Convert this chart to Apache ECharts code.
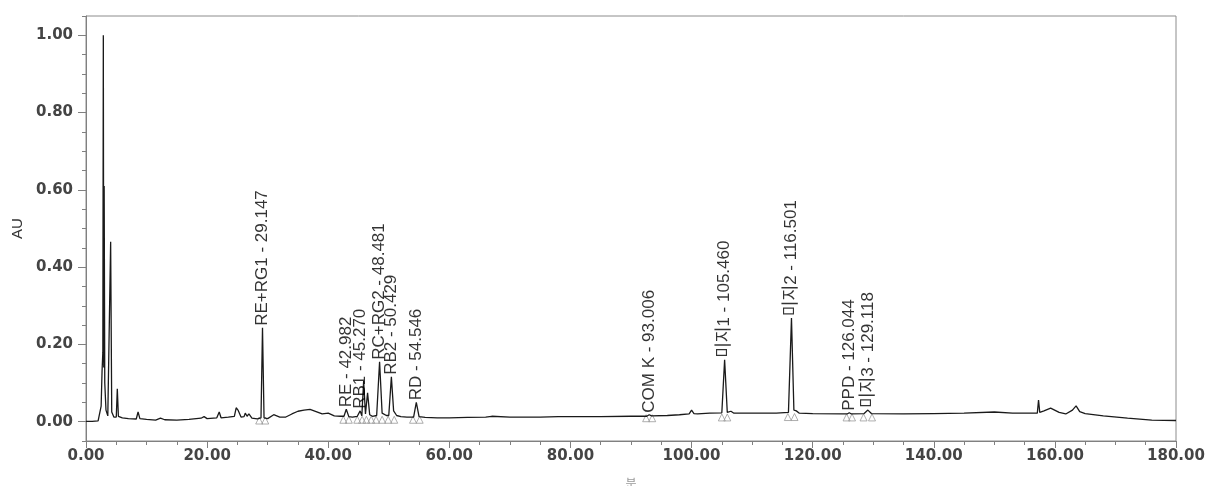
<!DOCTYPE html>
<html>
<head>
<meta charset="utf-8">
<script src="https://cdn.jsdelivr.net/npm/echarts@6/dist/echarts.min.js"></script>
<style>
html,body{margin:0;padding:0;background:#fff;}
#chart{width:1215px;height:486px;}
</style>
</head>
<body>
<div id="chart"></div>
<script>
// Chromatogram trace (time in minutes, absorbance in AU)
const traceTime = [0, 1.0, 2.0, 2.3, 2.5, 2.65, 2.78, 2.86, 2.93, 3.0, 3.1, 3.3, 3.6, 3.9, 4.07, 4.25, 4.6, 5.0, 5.17, 5.35,
  6.0, 7.0, 8.3, 8.6, 8.9, 10.0, 11.5, 12.3, 13.0, 15.0, 17.0, 19.0, 19.5, 20.0, 21.6, 22.0, 22.3, 23.5, 24.5, 24.8,
  25.1, 25.6, 26.1, 26.3, 26.6, 26.9, 27.4, 28.3, 28.9, 29.147, 29.4, 30.0, 31.0, 32.0, 33.0, 34.0, 35.0, 36.0, 37.0, 38.0,
  39.0, 40.0, 41.0, 42.0, 42.6, 42.982, 43.4, 44.0, 44.8, 45.27, 45.55, 45.85, 46.15, 46.5, 46.85, 47.3, 48.0, 48.481, 48.9, 49.6,
  50.0, 50.429, 50.8, 51.3, 52.0, 53.0, 54.1, 54.546, 55.0, 56.0, 58.0, 60.0, 63.0, 66.0, 67.0, 70.0, 75.0, 78.0, 80.0, 85.0,
  90.0, 92.6, 93.006, 93.4, 96.0, 98.0, 99.6, 100.0, 100.4, 101.0, 103.0, 105.0, 105.46, 105.9, 106.5, 107.0, 110.0, 114.0, 116.0, 116.501,
  116.9, 117.3, 117.8, 120.0, 125.0, 125.7, 126.044, 126.4, 128.5, 129.118, 129.7, 135.0, 140.0, 145.0, 150.0, 153.0, 157.1, 157.3, 157.5, 158.2,
  159.3, 160.7, 161.8, 162.9, 163.5, 164.1, 165.0, 168.0, 172.0, 176.0, 180.0];
const traceAU = [0.001, 0.001, 0.002, 0.006, 0.04, 0.13, 0.18, 1.0, 0.14, 0.61, 0.1, 0.03, 0.015, 0.018, 0.466, 0.025, 0.012, 0.012, 0.085, 0.014,
  0.01, 0.008, 0.007, 0.025, 0.008, 0.006, 0.004, 0.009, 0.005, 0.004, 0.006, 0.009, 0.013, 0.008, 0.01, 0.025, 0.01, 0.012, 0.014, 0.036,
  0.03, 0.012, 0.013, 0.022, 0.014, 0.02, 0.009, 0.007, 0.01, 0.243, 0.01, 0.008, 0.018, 0.012, 0.012, 0.02, 0.027, 0.03, 0.032, 0.026,
  0.02, 0.022, 0.015, 0.014, 0.014, 0.032, 0.013, 0.012, 0.014, 0.028, 0.015, 0.105, 0.02, 0.075, 0.018, 0.014, 0.016, 0.155, 0.022, 0.016,
  0.016, 0.116, 0.028, 0.016, 0.013, 0.012, 0.012, 0.05, 0.013, 0.011, 0.01, 0.01, 0.011, 0.012, 0.014, 0.012, 0.012, 0.013, 0.013, 0.013,
  0.014, 0.014, 0.018, 0.015, 0.016, 0.018, 0.02, 0.03, 0.021, 0.02, 0.022, 0.023, 0.16, 0.024, 0.027, 0.022, 0.022, 0.022, 0.024, 0.268,
  0.03, 0.028, 0.022, 0.021, 0.02, 0.02, 0.023, 0.02, 0.021, 0.03, 0.021, 0.02, 0.021, 0.022, 0.025, 0.022, 0.022, 0.056, 0.024, 0.028,
  0.035, 0.024, 0.02, 0.03, 0.041, 0.026, 0.021, 0.015, 0.009, 0.004, 0.003];

// Peak labels
const peakNames = ['RE+RG1 - 29.147', 'RE - 42.982', 'RB1 - 45.270', 'RC+RG2 - 48.481', 'RB2 - 50.429', 'RD - 54.546',
  'COM K - 93.006', '미지1 - 105.460', '미지2 - 116.501', 'PPD - 126.044', '미지3 - 129.118'];
const peakTimes = [29.147, 42.982, 45.270, 48.481, 50.429, 54.546, 93.006, 105.460, 116.501, 126.044, 129.118];

// Integration markers (triangles at peak start / end)
const markerTimes = [28.6, 29.6, 42.5, 43.4, 44.8, 45.6, 46.3, 47.1, 47.9, 48.9, 49.9, 50.9, 54.0, 55.1,
  92.5, 93.5, 105.0, 105.9, 115.9, 117.0, 125.6, 126.5, 128.4, 129.8];
const markerAU = [0.003, 0.003, 0.005, 0.005, 0.005, 0.005, 0.005, 0.005, 0.005, 0.005, 0.005, 0.005, 0.005, 0.005,
  0.009, 0.009, 0.011, 0.011, 0.012, 0.012, 0.011, 0.011, 0.011, 0.011];

const xTickLabels = [0, 20, 40, 60, 80, 100, 120, 140, 160, 180];
const yTickLabels = [0, 0.2, 0.4, 0.6, 0.8, 1.0];
const yMinorTicks = [-0.05, 0.05, 0.1, 0.15, 0.25, 0.3, 0.35, 0.45, 0.5, 0.55, 0.65, 0.7, 0.75, 0.85, 0.9, 0.95, 1.05];

const trace = traceTime.map((t, i) => [t, traceAU[i]]);
const labelData = peakTimes.map((t, i) => {
  const idx = traceTime.indexOf(t);
  return [t, traceAU[idx], peakNames[i]];
});
const markerData = markerTimes.map((t, i) => [t, markerAU[i]]);

const tickFont = { fontFamily: 'DejaVu Sans', fontSize: 15, fontWeight: 'bold', color: '#444' };
const axisGray = '#808080';

const chart = echarts.init(document.getElementById('chart'), null, { renderer: 'canvas' });
chart.setOption({
  animation: false,
  backgroundColor: '#ffffff',
  grid: { left: 86, right: 39, top: 16, bottom: 45, show: true, borderColor: '#8c8c8c', borderWidth: 1,
    containLabel: false, outerBoundsMode: 'none' },
  xAxis: {
    type: 'value', min: 0, max: 180, interval: 20,
    name: '분', nameLocation: 'middle', nameGap: 36,
    nameTextStyle: { fontFamily: 'Noto Sans CJK KR', fontSize: 12, color: '#999' },
    axisLine: { onZero: false, lineStyle: { color: axisGray, width: 1 } },
    axisTick: { show: true, length: 7, lineStyle: { color: axisGray } },
    minorTick: { show: true, splitNumber: 4, length: 4, lineStyle: { color: axisGray } },
    splitLine: { show: false },
    axisLabel: Object.assign({ margin: 8, formatter: v => v.toFixed(2) }, tickFont)
  },
  yAxis: [{
    type: 'value', min: -0.05, max: 1.05, position: 'left',
    name: 'AU', nameLocation: 'middle', nameGap: 56,
    nameTextStyle: { fontFamily: 'Liberation Sans', fontSize: 15, color: '#333' },
    axisLine: { show: true, lineStyle: { color: axisGray, width: 1 } },
    axisTick: { show: true, length: 8, customValues: yTickLabels, lineStyle: { color: axisGray } },
    splitLine: { show: false },
    axisLabel: Object.assign({ margin: 13, customValues: yTickLabels, formatter: v => v.toFixed(2) }, tickFont)
  }, {
    type: 'value', min: -0.05, max: 1.05, position: 'left', offset: 0,
    axisLine: { show: false },
    axisTick: { show: true, length: 4, customValues: yMinorTicks, lineStyle: { color: axisGray } },
    axisLabel: { show: false },
    splitLine: { show: false }
  }],
  series: [{
    type: 'line',
    data: trace,
    yAxisIndex: 0,
    showSymbol: false,
    symbol: 'none',
    lineStyle: { color: '#1a1a1a', width: 1.3 },
    silent: true,
    z: 3
  }, {
    type: 'scatter',
    data: markerData,
    yAxisIndex: 0,
    symbol: 'triangle',
    symbolSize: 7,
    itemStyle: { color: 'rgba(255,255,255,0)', borderColor: '#9a9a9a', borderWidth: 1 },
    silent: true,
    z: 2
  }, {
    type: 'scatter',
    data: labelData,
    yAxisIndex: 0,
    symbolSize: 0,
    silent: true,
    label: {
      show: true,
      position: 'top',
      distance: 2,
      rotate: 90,
      align: 'left',
      verticalAlign: 'middle',
      formatter: p => p.value[2],
      fontFamily: 'Liberation Sans, Noto Sans CJK KR',
      fontSize: 17,
      color: '#000'
    },
    labelLayout: { hideOverlap: false },
    z: 4
  }]
});
</script>
</body>
</html>
